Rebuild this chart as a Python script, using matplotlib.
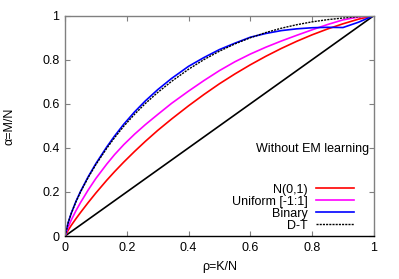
import matplotlib
matplotlib.use("Agg")
import matplotlib.pyplot as plt

# ---------------------------------------------------------------------------
# Data (rho = K/N, alpha = M/N)
# ---------------------------------------------------------------------------
rho = [0.0, 0.01, 0.02, 0.035, 0.05, 0.075, 0.1, 0.135, 0.16, 0.19, 0.225,
       0.26, 0.3, 0.345, 0.4, 0.45, 0.5, 0.55, 0.6, 0.65, 0.7, 0.75, 0.8,
       0.85, 0.9, 0.95, 1.0]

alpha_gauss = [0.0, 0.026, 0.048, 0.078, 0.1065, 0.152, 0.1955, 0.253, 0.2915,
               0.3353, 0.3836, 0.4295, 0.4791, 0.5309, 0.5909, 0.6424, 0.6909,
               0.7354, 0.7769, 0.8154, 0.8509, 0.8834, 0.9129, 0.9394, 0.9629,
               0.9839, 1.0]
alpha_unif = [0.0, 0.04, 0.072, 0.114, 0.1515, 0.209, 0.2615, 0.3263, 0.3688,
              0.4144, 0.462, 0.5054, 0.5514, 0.602, 0.6576, 0.7056, 0.7506,
              0.7906, 0.8256, 0.8566, 0.8846, 0.9106, 0.9356, 0.9596, 0.9806,
              0.9936, 1.0]
alpha_binary = [0.0, 0.06, 0.103, 0.156, 0.202, 0.269, 0.329, 0.404, 0.453,
                0.507, 0.563, 0.613, 0.664, 0.715, 0.77, 0.81, 0.846, 0.875,
                0.902, 0.919, 0.932, 0.94, 0.945, 0.947, 0.946, 0.97, 1.0]
alpha_dt = [0.0, 0.06, 0.102, 0.1545, 0.1995, 0.2658, 0.3245, 0.398, 0.4455,
            0.498, 0.5523, 0.6013, 0.6513, 0.7017, 0.7567, 0.8007, 0.8387,
            0.8717, 0.8997, 0.9232, 0.9427, 0.9587, 0.9717, 0.9817, 0.9892,
            0.9952, 1.0]

diag = [0.0, 1.0]

ticks = [0, 0.2, 0.4, 0.6, 0.8, 1]
tick_labels = ["0", "0.2", "0.4", "0.6", "0.8", "1"]

FS = 9
plt.rcParams["font.family"] = ["Liberation Sans", "DejaVu Sans"]
plt.rcParams["font.size"] = FS

fig = plt.figure(figsize=(3.99, 2.79), dpi=100)
ax = fig.add_axes([0.163, 0.154, 0.774, 0.79])

lw = 1.2
ax.plot(diag, diag, color="black", lw=lw)
ax.plot(rho, alpha_gauss, color="#ff0000", lw=lw, label="N(0,1)")
ax.plot(rho, alpha_unif, color="#ff00ff", lw=lw, label="Uniform [-1:1]")
ax.plot(rho, alpha_binary, color="#0000ff", lw=lw, label="Binary")
ax.plot(rho, alpha_dt, color="black", lw=1.0, linestyle=(0, (1.5, 0.8)), label="D-T")

ax.set_xlim(0, 1)
ax.set_ylim(0, 1)
ax.set_xticks(ticks)
ax.set_xticklabels(tick_labels)
ax.set_yticks(ticks)
ax.set_yticklabels(tick_labels)
ax.tick_params(direction="in", length=3.5, width=0.8, color="#808080",
               top=True, right=True, labelsize=FS, pad=4)

for side in ["left", "top", "right"]:
    ax.spines[side].set_color("#808080")
    ax.spines[side].set_linewidth(1.0)
ax.spines["bottom"].set_color("black")
ax.spines["bottom"].set_linewidth(1.0)

ax.set_xlabel("ρ=K/N", labelpad=5)
ax.set_ylabel("α=M/N", labelpad=19)

ax.text(0.984, 0.393, "Without EM learning", transform=ax.transAxes,
        ha="right", va="center", fontsize=FS)

ax.legend(loc="lower right", bbox_to_anchor=(0.965, -0.02), frameon=False,
          markerfirst=False, handlelength=3.1, handletextpad=0.65,
          labelspacing=0.0, borderpad=0.2, fontsize=FS)

fig.savefig("out.png", dpi=100)
